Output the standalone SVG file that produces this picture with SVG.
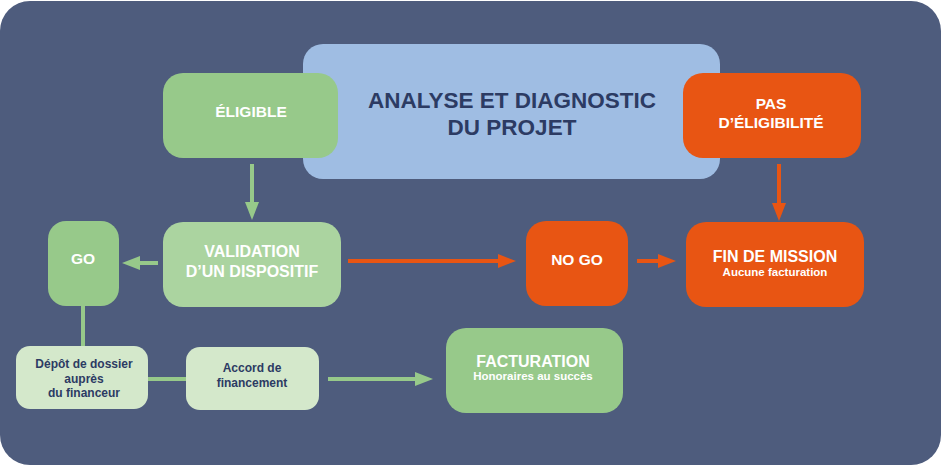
<svg xmlns="http://www.w3.org/2000/svg" width="942" height="466" viewBox="0 0 942 466">
<defs>
<style>
.t{font-family:"Liberation Sans",Arial,sans-serif;font-weight:bold;text-anchor:middle}
.w{fill:#ffffff}
.d{fill:#2c3b63}
.lg{stroke:#97c98a;stroke-width:4;fill:none}
.lo{stroke:#e85513;stroke-width:4;fill:none}
.g1{fill:#97c98a}
.g2{fill:#abd4a0}
.g3{fill:#d4e8cb}
.or{fill:#e85513}
</style>
<marker id="ag" viewBox="0 0 18 14" refX="1" refY="7" markerWidth="18" markerHeight="14" markerUnits="userSpaceOnUse" orient="auto">
<path d="M0,0 L18,7 L0,14 z" fill="#97c98a"/>
</marker>
<marker id="ao" viewBox="0 0 18 14" refX="1" refY="7" markerWidth="18" markerHeight="14" markerUnits="userSpaceOnUse" orient="auto">
<path d="M0,0 L18,7 L0,14 z" fill="#e85513"/>
</marker>
</defs>
<rect x="0" y="0" width="942" height="466" fill="#ffffff"/>
<rect x="0" y="1" width="941" height="464" rx="30" fill="#4e5c7d"/>

<g id="analyse">
<rect x="303" y="44" width="417" height="135" rx="20" fill="#9fbde3"/>
<text class="t d" x="512" y="108" font-size="22.5">ANALYSE ET DIAGNOSTIC</text>
<text class="t d" x="512" y="135" font-size="22.5">DU PROJET</text>
</g>

<g id="eligible">
<rect class="g1" x="163" y="73" width="175" height="85" rx="20"/>
<text class="t w" x="251" y="117" font-size="15.5">ÉLIGIBLE</text>
</g>

<g id="pas-eligibilite">
<rect class="or" x="683" y="73" width="178" height="85" rx="20"/>
<text class="t w" x="771" y="109" font-size="15.5">PAS</text>
<text class="t w" x="771" y="128" font-size="15.5">D’ÉLIGIBILITÉ</text>
</g>

<g id="validation">
<rect class="g2" x="163" y="222" width="178" height="85" rx="20"/>
<text class="t w" x="252" y="257" font-size="16">VALIDATION</text>
<text class="t w" x="252" y="277" font-size="16">D’UN DISPOSITIF</text>
</g>

<g id="go">
<rect class="g1" x="48" y="221" width="71" height="85" rx="18"/>
<text class="t w" x="83" y="264" font-size="15.5">GO</text>
</g>

<g id="nogo">
<rect class="or" x="526" y="221" width="102" height="85" rx="20"/>
<text class="t w" x="577" y="265" font-size="15.5">NO GO</text>
</g>

<g id="fin-mission">
<rect class="or" x="686" y="222" width="178" height="85" rx="20"/>
<text class="t w" x="775" y="262" font-size="16">FIN DE MISSION</text>
<text class="t w" x="775" y="276" font-size="11.5">Aucune facturation</text>
</g>

<g id="depot">
<rect class="g3" x="16" y="346" width="132" height="63" rx="14"/>
<text class="t d" x="84" y="368" font-size="12">Dépôt de dossier</text>
<text class="t d" x="84" y="383" font-size="12">auprès</text>
<text class="t d" x="84" y="397" font-size="12">du financeur</text>
</g>

<g id="accord">
<rect class="g3" x="186" y="347" width="133" height="63" rx="14"/>
<text class="t d" x="252" y="372" font-size="12">Accord de</text>
<text class="t d" x="252" y="387" font-size="12">financement</text>
</g>

<g id="facturation">
<rect class="g1" x="446" y="328" width="177" height="85" rx="20"/>
<text class="t w" x="533" y="367" font-size="16">FACTURATION</text>
<text class="t w" x="533" y="380" font-size="11.5">Honoraires au succès</text>
</g>

<g id="connectors">
<line class="lg" x1="252" y1="164" x2="252" y2="203" marker-end="url(#ag)"/>
<line class="lg" x1="158" y1="263" x2="139" y2="263" marker-end="url(#ag)"/>
<line class="lg" x1="83" y1="306" x2="83" y2="346"/>
<line class="lg" x1="148" y1="379" x2="186" y2="379"/>
<line class="lg" x1="328" y1="379" x2="416" y2="379" marker-end="url(#ag)"/>
<line class="lo" x1="348" y1="261" x2="499" y2="261" marker-end="url(#ao)"/>
<line class="lo" x1="637" y1="261" x2="659" y2="261" marker-end="url(#ao)"/>
<line class="lo" x1="779" y1="164" x2="779" y2="204" marker-end="url(#ao)"/>
</g>
</svg>
